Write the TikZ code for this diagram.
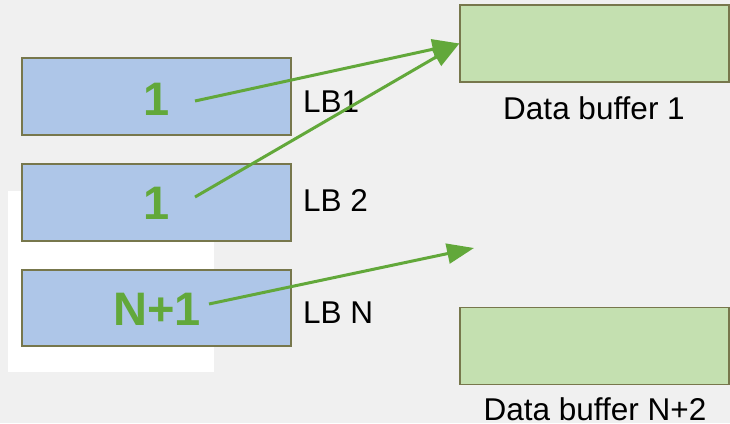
\documentclass[tikz,border=0pt]{standalone}
\usepackage{fontspec}
\setmainfont{Liberation Sans}
\usetikzlibrary{arrows.meta}
\definecolor{bgGray}{HTML}{F0F0F0}
\definecolor{lbFill}{HTML}{AEC6E8}
\definecolor{bufFill}{HTML}{C4E0B0}
\definecolor{edgeOlive}{HTML}{77774C}
\definecolor{linkGreen}{HTML}{62A83A}
\tikzset{
  lbbox/.style={draw=edgeOlive, fill=lbFill, line width=1.3pt},
  bufbox/.style={draw=edgeOlive, fill=bufFill, line width=1.3pt},
  idxtext/.style={text=linkGreen, font=\fontsize{47}{47}\selectfont\bfseries, inner sep=0pt, anchor=base},
  lbltext/.style={font=\fontsize{31.5}{31.5}\selectfont, inner sep=0pt},
  link/.style={draw=linkGreen, line width=3pt, -{Triangle[length=27pt,width=20pt]}}
}
\begin{document}
\begin{tikzpicture}[x=1pt, y=-1pt]
  % canvas
  \fill[bgGray] (0,0) rectangle (730,423);
  \useasboundingbox (0,0) rectangle (730,423);
  \fill[white] (8,191) rectangle (214,372);

  % line-buffer slots
  \path[lbbox] (22,58) rectangle (291,135);
  \path[lbbox] (22,164) rectangle (291,241);
  \path[lbbox] (22,270) rectangle (291,346);
  \node[idxtext] (n1) at (157,115) {1};
  \node[idxtext] (n2) at (157,219) {1};
  \node[idxtext] (nN) at (157,325) {N+1};
  \node[lbltext, anchor=base west] (l1) at (303,112) {LB1};
  \node[lbltext, anchor=base west] (l2) at (303,211) {LB 2};
  \node[lbltext, anchor=base west] (lN) at (303,323) {LB N};

  % data buffers
  \node[bufbox, minimum width=269pt, minimum height=77pt, inner sep=0pt] (b1) at (594.5,43.5) {};
  \node[bufbox, minimum width=269pt, minimum height=77pt, inner sep=0pt] (b2) at (594.5,346) {};
  \node[lbltext, anchor=base] (t1) at (594,119) {Data buffer 1};
  \node[lbltext, anchor=base] (t2) at (595,420) {Data buffer N+2};

  % links from slots to buffers
  \coordinate (s1) at (195,101);
  \coordinate (s2) at (195,197);
  \coordinate (sN) at (209,304);
  \coordinate (gap) at (474,248);
  \draw[link] (s1) -- (b1.west);
  \draw[link] (s2) -- (b1.west);
  \draw[link] (sN) -- (gap);
\end{tikzpicture}
\end{document}
